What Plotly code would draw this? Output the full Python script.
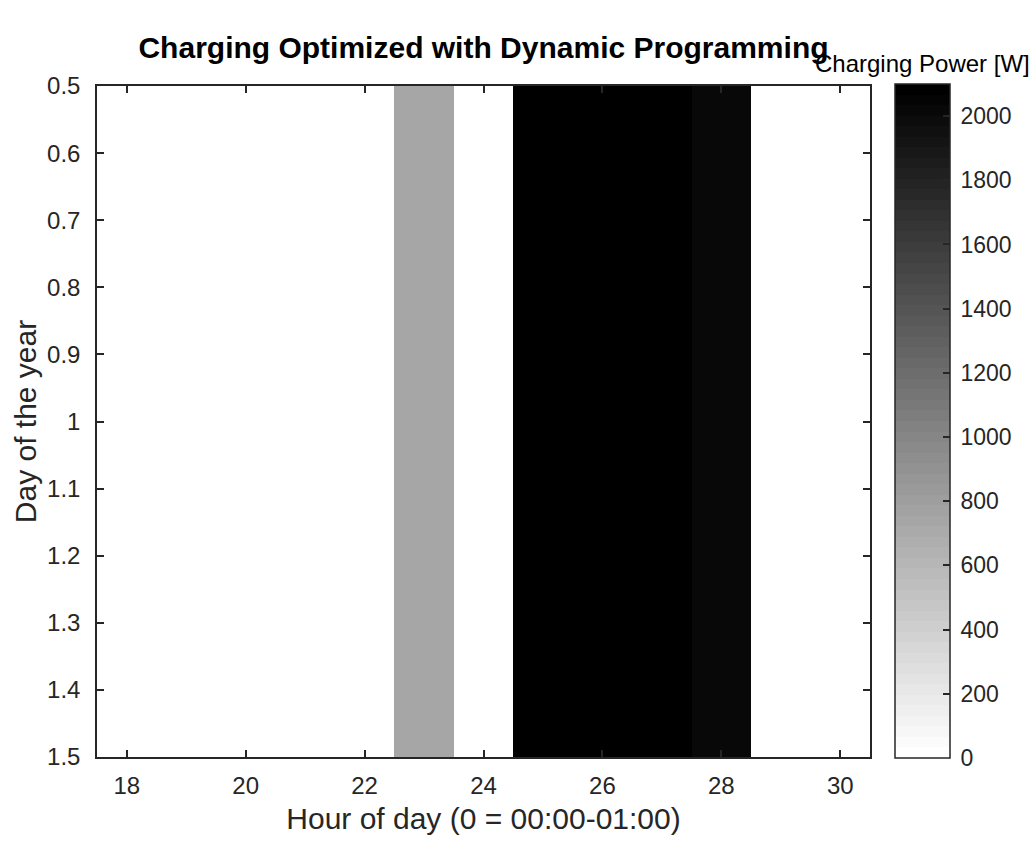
import plotly.graph_objects as go

# Charging schedule for one day (hour 18 through hour 30 of the next morning)
hours = [18, 19, 20, 21, 22, 23, 24, 25, 26, 27, 28, 29, 30]
day = 1
power_w = [0, 0, 0, 0, 0, 730, 0, 2100, 2100, 2100, 2020, 0, 0]

cmin, cmax = 0, 2100
cbar_ticks = [0, 200, 400, 600, 800, 1000, 1200, 1400, 1600, 1800, 2000]

# reversed 64-level gray map (white = 0 W, black = max)
n_levels = 64
scale = []
for k in range(n_levels):
    g = round(255 * (n_levels - 1 - k) / (n_levels - 1))
    c = f"rgb({g},{g},{g})"
    scale.append([k / n_levels, c])
    scale.append([(k + 1) / n_levels, c])

ink = "#262626"
font = "Liberation Sans, Arial, sans-serif"

fig = go.Figure(
    go.Heatmap(
        z=[power_w],
        x0=hours[0], dx=1,
        y0=day, dy=1,
        zmin=cmin, zmax=cmax,
        colorscale=scale,
        showscale=True,
        colorbar=dict(
            thickness=55, thicknessmode="pixels",
            len=674, lenmode="pixels",
            x=1.032, xanchor="left",
            y=1.003, yanchor="top",
            outlinewidth=1.5, outlinecolor=ink,
            ticks="inside", ticklen=7, tickcolor=ink, tickwidth=1.5,
            tickvals=cbar_ticks,
            ticktext=["\u2009" + str(v) for v in cbar_ticks],
            tickfont=dict(family=font, size=23, color=ink),
            xpad=0, ypad=0,
        ),
    )
)

fig.update_layout(
    width=1036, height=843,
    margin=dict(l=97, r=166, t=86, b=86),
    paper_bgcolor="white", plot_bgcolor="white",
    font=dict(family=font, color=ink),
    title=dict(
        text="<b>Charging Optimized with Dynamic Programming</b>",
        x=(97 + 870) / 2 / 1036, xanchor="center",
        y=1 - 47 / 843, yanchor="middle",
        font=dict(family=font, size=30, color="black"),
    ),
    annotations=[
        dict(
            text="Charging Power [W]", xref="paper", yref="paper",
            x=1.032 + 27.5 / 773, y=1 + 22 / 671, xanchor="center", yanchor="middle",
            showarrow=False, font=dict(family=font, size=24, color="black"),
        )
    ],
)

fig.update_xaxes(
    range=[17.5, 30.5],
    tickvals=[18, 20, 22, 24, 26, 28, 30],
    ticks="inside", ticklen=7, tickwidth=1.5, tickcolor=ink,
    showline=True, linewidth=1.5, linecolor=ink, mirror="ticks",
    showgrid=False, zeroline=False,
    ticklabelstandoff=6,
    tickfont=dict(family=font, size=24, color=ink),
    title=dict(text="Hour of day (0 = 00:00-01:00)", font=dict(family=font, size=30, color=ink), standoff=10),
)
fig.update_yaxes(
    range=[1.5, 0.5],
    tickvals=[0.5, 0.6, 0.7, 0.8, 0.9, 1, 1.1, 1.2, 1.3, 1.4, 1.5],
    ticktext=["0.5", "0.6", "0.7", "0.8", "0.9", "1", "1.1", "1.2", "1.3", "1.4", "1.5"],
    ticks="inside", ticklen=7, tickwidth=1.5, tickcolor=ink,
    showline=True, linewidth=1.5, linecolor=ink, mirror="ticks",
    showgrid=False, zeroline=False,
    ticklabelstandoff=10,
    tickfont=dict(family=font, size=24, color=ink),
    title=dict(text="Day of the year", font=dict(family=font, size=30, color=ink), standoff=2),
)

fig.write_html("out.html")
